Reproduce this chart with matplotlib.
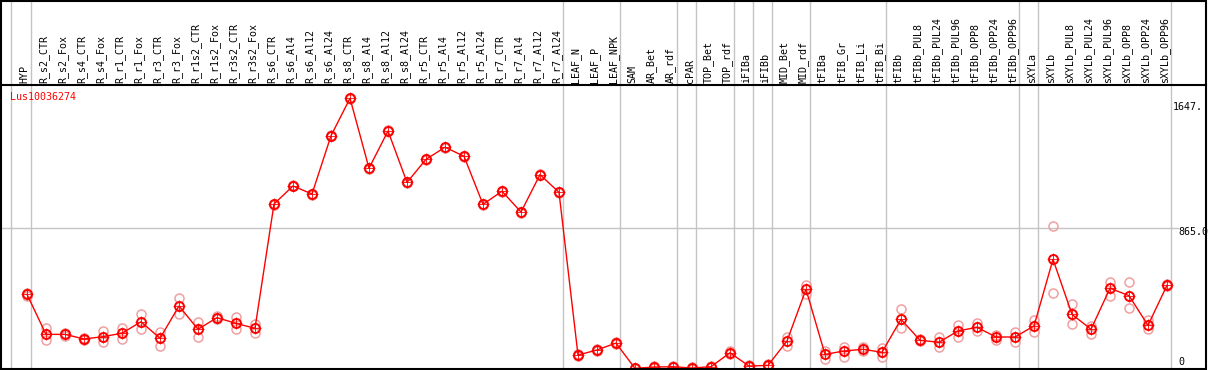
import matplotlib
matplotlib.use("Agg")
import matplotlib.pyplot as plt
from matplotlib.patches import Rectangle

# sample names
labels = ["HYP", "R_s2_CTR", "R_s2_Fox", "R_s4_CTR", "R_s4_Fox", "R_r1_CTR", "R_r1_Fox",
          "R_r3_CTR", "R_r3_Fox", "R_r1s2_CTR", "R_r1s2_Fox", "R_r3s2_CTR", "R_r3s2_Fox",
          "R_s6_CTR", "R_s6_Al4", "R_s6_Al12", "R_s6_Al24", "R_s8_CTR", "R_s8_Al4", "R_s8_Al12",
          "R_s8_Al24", "R_r5_CTR", "R_r5_Al4", "R_r5_Al12", "R_r5_Al24", "R_r7_CTR", "R_r7_Al4",
          "R_r7_Al12", "R_r7_Al24", "LEAF_N", "LEAF_P", "LEAF_NPK", "SAM", "AR_Bet", "AR_rdf",
          "cPAR", "TOP_Bet", "TOP_rdf", "iFIBa", "iFIBb", "MID_Bet", "MID_rdf", "tFIBa",
          "tFIB_Gr", "tFIB_Li", "tFIB_Bi", "tFIBb", "tFIBb_PUL8", "tFIBb_PUL24", "tFIBb_PUL96",
          "tFIBb_OPP8", "tFIBb_OPP24", "tFIBb_OPP96", "sXYLa", "sXYLb", "sXYLb_PUL8",
          "sXYLb_PUL24", "sXYLb_PUL96", "sXYLb_OPP8", "sXYLb_OPP24", "sXYLb_OPP96"]

# mean expression
means = [461, 217, 217, 189, 203, 224, 294, 193, 390, 248, 319, 284, 254,
         1011, 1121, 1072, 1427, 1655, 1229, 1456, 1143, 1283, 1357, 1302, 1009, 1089, 962, 1190, 1082,
         91, 122, 164, 10, 18, 20, 12, 20, 105, 24, 28, 177, 491, 95, 116, 126, 108,
         309, 181, 169, 238, 260, 201, 201, 268, 674, 339, 248, 498, 453, 272, 516]

# replicates
rep_a = [470, 254, 224, 194, 239, 258, 341, 233, 437, 291, 329, 321, 280,
         1014, 1124, 1075, 1430, 1658, 1232, 1459, 1146, 1286, 1360, 1305, 1012, 1092, 965, 1193, 1085,
         96, 127, 170, 14, 22, 24, 16, 24, 115, 30, 34, 203, 518, 116, 138, 138, 136,
         370, 188, 199, 274, 284, 211, 233, 305, 877, 402, 268, 536, 536, 305, 522]
rep_b = [452, 183, 210, 184, 172, 191, 248, 148, 341, 203, 311, 248, 227,
         1008, 1118, 1069, 1424, 1652, 1226, 1453, 1140, 1280, 1354, 1299, 1006, 1086, 959, 1187, 1079,
         86, 117, 158, 6, 14, 16, 8, 16, 98, 18, 22, 146, 461, 69, 77, 116, 81,
         254, 174, 142, 203, 238, 183, 169, 229, 467, 278, 217, 453, 376, 248, 510]

# last sample of each group
group_ends = [0, 28, 31, 34, 35, 37, 38, 39, 41, 45, 52, 53, 60]

gene = "Lus10036274"
y_max_label = 1647
y_mid_label = 865.0

mono = "DejaVu Sans Mono"
fs = 7.2
grey = "#c4c4c4"

fig = plt.figure(figsize=(12.09, 3.70), dpi=100)
ax = fig.add_axes([0, 0, 1, 285 / 370])
ax.set_xlim(-27 / 19, (1209 - 27) / 19)
ax.set_ylim(0, 1736)
ax.axis("off")

x = list(range(len(labels)))
top_ext = 370 / 285  # line reaches top of figure

# group separators
ax.axvline(-0.84, ymin=0, ymax=top_ext, color=grey, lw=1, clip_on=False)
for g in group_ends:
    ax.axvline(g + 0.2, ymin=0, ymax=top_ext, color=grey, lw=1, clip_on=False)

ax.axhline(y_mid_label, xmin=0, xmax=1178 / 1209, color=grey, lw=1)

# replicates
ax.plot(x, rep_a, ls="none", marker="o", ms=6.5, mfc="none", mec="#f0a0a0", mew=1.1)
ax.plot(x, rep_b, ls="none", marker="o", ms=6.5, mfc="none", mec="#f0a0a0", mew=1.1)

# mean line
ax.plot(x, means, color="red", lw=1.0, marker="o", ms=6.5, mfc="none", mec="red", mew=1.4)
ax.plot(x, means, ls="none", marker="+", ms=8.5, mec="red", mew=0.6)

# sample labels
for i, lab in enumerate(labels):
    ax.text(i - 0.13, 1.008, lab, transform=ax.get_xaxis_transform(), rotation=90,
            ha="center", va="bottom", fontsize=fs, family=mono, clip_on=False)

ax.text(10 / 1209, (370 - 97) / 285, gene, transform=ax.transAxes, color="red",
        fontsize=fs, family=mono, va="center", ha="left")

# value labels on the right
lx = (1173 - 27) / 19
ax.annotate(f"{y_max_label}.", (lx, y_max_label), xytext=(0, -2), textcoords="offset points",
            fontsize=fs, family=mono, va="top", ha="left")
ax.annotate(f"{y_mid_label:.1f}", ((1178 - 27) / 19, y_mid_label), xytext=(0, 1),
            textcoords="offset points", fontsize=fs, family=mono, va="top", ha="left")
ax.annotate("0", ((1178 - 27) / 19, 0), xytext=(0, 2), textcoords="offset points",
            fontsize=fs, family=mono, va="bottom", ha="left")

# frame and header separator
fig.patches.append(Rectangle((0.5 / 1209, 1.5 / 370), 1205 / 1209, 368 / 370,
                             transform=fig.transFigure, fill=False, ec="black", lw=1.5))
fig.add_artist(plt.Line2D([0, 1206 / 1209], [285 / 370, 285 / 370], color="black", lw=1.5))

fig.savefig("out.png", dpi=100)
